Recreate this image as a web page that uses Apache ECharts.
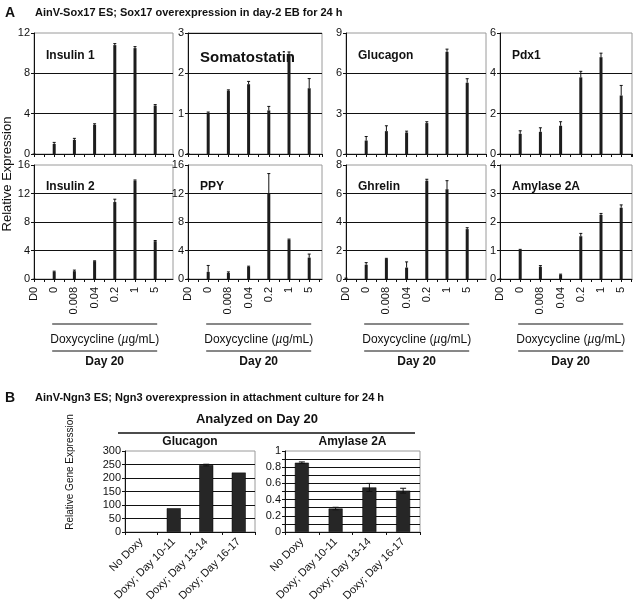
<!DOCTYPE html>
<html>
<head>
<meta charset="utf-8">
<script src="https://cdn.jsdelivr.net/npm/echarts@6/dist/echarts.min.js"></script>
<style>
  html, body { margin: 0; padding: 0; background: #fff; }
  #chart { width: 641px; height: 613px; }
</style>
</head>
<body>
<div id="chart"></div>
<script>
// Panel A: doxycycline dose categories
var doseCats = ['D0', '0', '0.008', '0.04', '0.2', '1', '5'];

var insulin1     = [0.05, 1.0, 1.4, 2.9, 10.8, 10.5, 4.8];
var insulin1Err  = [0, 0.15, 0.15, 0.1, 0.15, 0.15, 0.1];
var somato       = [0.02, 1.02, 1.57, 1.73, 1.08, 2.48, 1.63];
var somatoErr    = [0, 0.02, 0.02, 0.07, 0.1, 0.05, 0.24];
var glucagon     = [0.02, 1.0, 1.7, 1.6, 2.3, 7.6, 5.3];
var glucagonErr  = [0, 0.3, 0.4, 0.1, 0.1, 0.2, 0.3];
var pdx1         = [0.02, 1.0, 1.1, 1.4, 3.8, 4.8, 2.9];
var pdx1Err      = [0, 0.15, 0.2, 0.2, 0.3, 0.2, 0.5];
var insulin2     = [0.05, 1.0, 1.1, 2.5, 10.8, 13.8, 5.3];
var insulin2Err  = [0, 0.1, 0.15, 0.05, 0.4, 0.1, 0.1];
var ppy          = [0.05, 1.0, 0.85, 1.7, 12.0, 5.5, 3.0];
var ppyErr       = [0, 0.9, 0.15, 0.1, 2.8, 0.1, 0.5];
var ghrelin      = [0.1, 1.0, 1.4, 0.8, 6.9, 6.3, 3.5];
var ghrelinErr   = [0, 0.15, 0.05, 0.4, 0.1, 0.6, 0.1];
var amylase      = [0.02, 1.02, 0.43, 0.15, 1.5, 2.25, 2.5];
var amylaseErr   = [0, 0.02, 0.04, 0.02, 0.1, 0.05, 0.1];

// y axis ticks for panel A: [max, interval]
var yTicksA = [[12, 4], [3, 1], [9, 3], [6, 2], [16, 4], [16, 4], [8, 2], [4, 1]];

// Panel B
var doxyCats = ['No Doxy', 'Doxy; Day 10-11', 'Doxy; Day 13-14', 'Doxy; Day 16-17'];
var glucB    = [0, 88, 248, 220];
var glucBErr = [0, 0, 3, 0];
var amyB     = [0.855, 0.29, 0.55, 0.51];
var amyBErr  = [0.01, 0.015, 0.05, 0.03];

var FONT = "'Liberation Sans', Arial, sans-serif";
var chart = echarts.init(document.getElementById('chart'));

var panelsA = [
  { name: 'Insulin 1', v: insulin1, e: insulin1Err },
  { name: 'Somatostatin', v: somato, e: somatoErr },
  { name: 'Glucagon', v: glucagon, e: glucagonErr },
  { name: 'Pdx1', v: pdx1, e: pdx1Err },
  { name: 'Insulin 2', v: insulin2, e: insulin2Err },
  { name: 'PPY', v: ppy, e: ppyErr },
  { name: 'Ghrelin', v: ghrelin, e: ghrelinErr },
  { name: 'Amylase 2A', v: amylase, e: amylaseErr }
];

// layout
var colLeft = [34, 188, 346, 500];
var colWidth = [139, 134, 140, 132];
var rowTop = [33, 165];
var rowHeight = [121, 114];
var step = 20.2;

var grids = [], xAxes = [], yAxes = [], series = [], graphics = [];

function errRender(sym) {
  return function (params, api) {
    var x = api.value(0), y = api.value(1), e = api.value(2);
    if (!e) return null;
    var top = api.coord([x, y + e]);
    var bot = api.coord([x, sym ? y - e : y]);
    var cap = sym ? 3 : 1.5;
    var ch = [
      { type: 'line', shape: { x1: top[0], y1: top[1], x2: bot[0], y2: bot[1] }, style: { stroke: '#111', lineWidth: 1 } },
      { type: 'line', shape: { x1: top[0] - cap, y1: top[1], x2: top[0] + cap, y2: top[1] }, style: { stroke: '#111', lineWidth: 1 } }
    ];
    if (sym) ch.push({ type: 'line', shape: { x1: bot[0] - cap, y1: bot[1], x2: bot[0] + cap, y2: bot[1] }, style: { stroke: '#111', lineWidth: 1 } });
    return { type: 'group', children: ch };
  };
}

panelsA.forEach(function (p, i) {
  var r = Math.floor(i / 4), c = i % 4;
  var w = colWidth[c];
  grids.push({ left: colLeft[c], top: rowTop[r], width: w, height: rowHeight[r], show: true, borderColor: '#9a9a9a', borderWidth: 1, backgroundColor: '#fff' });
  xAxes.push({
    gridIndex: i, type: 'value', min: 0, max: w / step, interval: 0.5,
    axisLine: { lineStyle: { color: '#111', width: 1 } },
    axisTick: { show: true, length: 3, inside: false, lineStyle: { color: '#111' } },
    splitLine: { show: false },
    axisLabel: {
      show: r === 1, rotate: 90, margin: 8, fontFamily: FONT, fontSize: 11, color: '#111',
      showMinLabel: true, showMaxLabel: false,
      formatter: function (v) { return Number.isInteger(v) && doseCats[v] !== undefined ? doseCats[v] : ''; }
    }
  });
  var yt = yTicksA[i];
  var isSomato = p.name === 'Somatostatin';
  yAxes.push({
    gridIndex: i, type: 'value', min: 0, max: yt[0], interval: yt[1],
    axisLine: { show: true, lineStyle: { color: '#111' } },
    axisTick: { show: true, length: 3, lineStyle: { color: '#111' } },
    splitLine: { show: true, showMaxLine: isSomato, lineStyle: { color: '#111', width: 1 } },
    axisLabel: { fontFamily: FONT, fontSize: 11, color: '#111', margin: 4 }
  });
  series.push({
    type: 'bar', xAxisIndex: i, yAxisIndex: i, barWidth: 3,
    itemStyle: { color: '#1c1c1c' },
    data: p.v.map(function (v, k) { return [k, v]; })
  });
  series.push({
    type: 'custom', xAxisIndex: i, yAxisIndex: i, z: 3,
    renderItem: errRender(false),
    data: p.v.map(function (v, k) { return [k, v, p.e[k]]; })
  });
  graphics.push({
    type: 'text', left: colLeft[c] + 12, top: rowTop[r] + 17 + (r === 1 ? -1 : 0),
    style: { text: p.name, font: 'bold ' + (isSomato ? 15 : 12) + 'px ' + FONT, fill: '#111' }
  });
  if (r === 1) {
    var x0 = colLeft[c] + step - 2, x1 = colLeft[c] + 6 * step + 2;
    graphics.push({ type: 'line', shape: { x1: x0, y1: 324, x2: x1, y2: 324 }, style: { stroke: '#111', lineWidth: 1 } });
    graphics.push({ type: 'line', shape: { x1: x0, y1: 351, x2: x1, y2: 351 }, style: { stroke: '#111', lineWidth: 1 } });
    graphics.push({
      type: 'text', x: (x0 + x1) / 2, y: 340,
      style: {
        text: 'Doxycycline ({m|\u00b5}g/mL)', align: 'center', verticalAlign: 'middle',
        font: '12px ' + FONT, fill: '#111',
        rich: { m: { fontStyle: 'italic', fontSize: 12, fontFamily: FONT, fill: '#111' } }
      }
    });
    graphics.push({ type: 'text', x: (x0 + x1) / 2, y: 362, style: { text: 'Day 20', align: 'center', verticalAlign: 'middle', font: 'bold 12px ' + FONT, fill: '#111' } });
  }
});

// Panel B grids
var panelsB = [
  { name: 'Glucagon', v: glucB, e: glucBErr, max: 300, interval: 50, left: 125, width: 130 },
  { name: 'Amylase 2A', v: amyB, e: amyBErr, max: 1, interval: 0.1, left: 285, width: 135 }
];
panelsB.forEach(function (p, j) {
  var i = panelsA.length + j;
  grids.push({ left: p.left, top: 451, width: p.width, height: 81, show: true, borderColor: '#9a9a9a', borderWidth: 1, backgroundColor: '#fff' });
  xAxes.push({
    gridIndex: i, type: 'category', data: doxyCats,
    axisLine: { lineStyle: { color: '#111' } },
    axisTick: { show: true, length: 3, lineStyle: { color: '#111' } },
    axisLabel: { rotate: 45, interval: 0, margin: 8, fontFamily: FONT, fontSize: 11, color: '#111' }
  });
  yAxes.push({
    gridIndex: i, type: 'value', min: 0, max: p.max, interval: p.interval,
    axisLine: { show: true, lineStyle: { color: '#111' } },
    axisTick: { show: true, length: 3, lineStyle: { color: '#111' } },
    splitLine: { show: true, showMaxLine: false, lineStyle: { color: '#111', width: 1 } },
    axisLabel: {
      fontFamily: FONT, fontSize: 11, color: '#111', margin: 4,
      formatter: p.max === 1 ? function (v) { return Math.round(v * 10) % 2 === 0 ? String(+v.toFixed(1)) : ''; } : null
    }
  });
  series.push({
    type: 'bar', xAxisIndex: i, yAxisIndex: i, barWidth: 14,
    itemStyle: { color: '#262626', borderColor: '#000', borderWidth: 0.5 },
    data: p.v.map(function (v) { return v > 0 ? v : null; })
  });
  series.push({
    type: 'custom', xAxisIndex: i, yAxisIndex: i, z: 3,
    renderItem: errRender(true),
    data: p.v.map(function (v, k) { return [k, v, p.e[k]]; })
  });
  graphics.push({ type: 'text', x: p.left + p.width / 2, y: 442, style: { text: p.name, align: 'center', verticalAlign: 'middle', font: 'bold 12px ' + FONT, fill: '#111' } });
});

// headers and shared labels
graphics.push(
  { type: 'text', x: 5, y: 13, style: { text: 'A', verticalAlign: 'middle', font: 'bold 14px ' + FONT, fill: '#111' } },
  { type: 'text', x: 35, y: 13, style: { text: 'AinV-Sox17 ES; Sox17 overexpression in day-2 EB for 24 h', verticalAlign: 'middle', font: 'bold 11px ' + FONT, fill: '#111' } },
  { type: 'text', x: 7, y: 174, rotation: Math.PI / 2, style: { text: 'Relative Expression', align: 'center', verticalAlign: 'middle', font: '13px ' + FONT, fill: '#111' } },
  { type: 'text', x: 5, y: 398, style: { text: 'B', verticalAlign: 'middle', font: 'bold 14px ' + FONT, fill: '#111' } },
  { type: 'text', x: 35, y: 398, style: { text: 'AinV-Ngn3 ES; Ngn3 overexpression in attachment culture for 24 h', verticalAlign: 'middle', font: 'bold 11px ' + FONT, fill: '#111' } },
  { type: 'text', x: 257, y: 419, style: { text: 'Analyzed on Day 20', align: 'center', verticalAlign: 'middle', font: 'bold 13px ' + FONT, fill: '#111' } },
  { type: 'line', shape: { x1: 118, y1: 433, x2: 415, y2: 433 }, style: { stroke: '#111', lineWidth: 1.5 } },
  { type: 'text', x: 70, y: 472, rotation: Math.PI / 2, style: { text: 'Relative Gene Expression', align: 'center', verticalAlign: 'middle', font: '10px ' + FONT, fill: '#111' } }
);

chart.setOption({
  animation: false,
  backgroundColor: '#fff',
  grid: grids,
  xAxis: xAxes,
  yAxis: yAxes,
  series: series,
  graphic: graphics
});
</script>
</body>
</html>
